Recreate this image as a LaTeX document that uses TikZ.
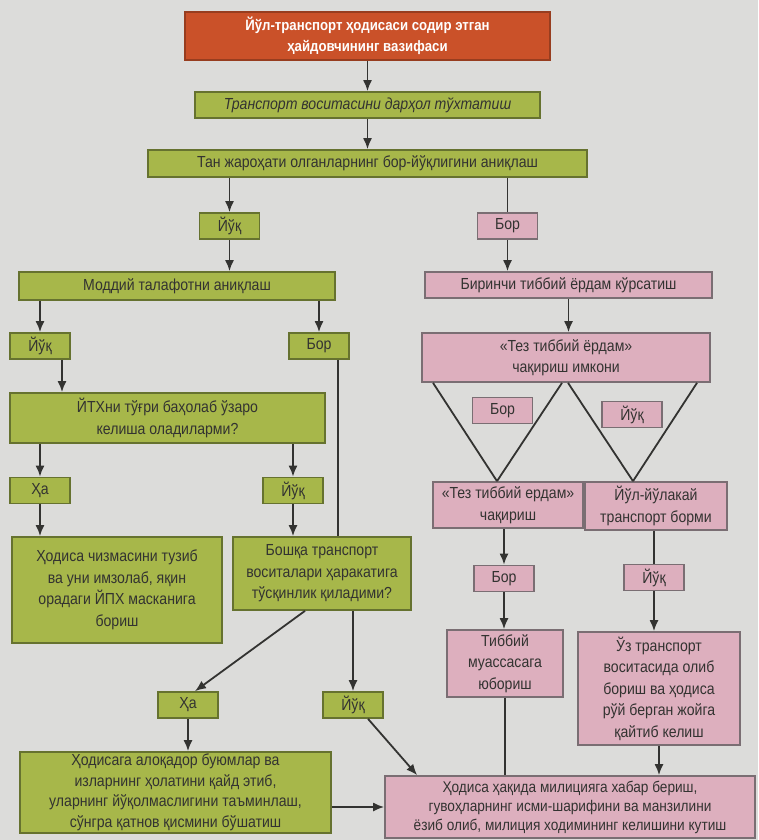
\documentclass[tikz,border=0pt]{standalone}
\usepackage{fontspec}
\setmainfont{Liberation Sans}[FakeStretch=0.88]
\usetikzlibrary{arrows.meta}
\definecolor{paper}{HTML}{DCDCDA}
\definecolor{olive}{HTML}{A7B74A}
\definecolor{oliveline}{HTML}{66722F}
\definecolor{rose}{HTML}{DDAFBE}
\definecolor{roseline}{HTML}{7A6E73}
\definecolor{brick}{HTML}{CA5129}
\definecolor{ink}{HTML}{333331}
\tikzset{
    box/.style={draw=oliveline, line width=1.7pt, fill=olive, text=ink, align=center, inner sep=1pt, font=\fontsize{16}{21.5}\selectfont},
    pbox/.style={box, draw=roseline, fill=rose},
    tag/.style={box, minimum width=60pt, minimum height=26pt},
    ptag/.style={tag, draw=roseline, fill=rose},
    arr/.style={-{Latex[length=11pt,width=9pt]}, line width=1.8pt, draw=ink},
    ln/.style={line width=1.8pt, draw=ink}
}
\begin{document}
\begin{tikzpicture}[x=1pt, y=-1pt]
        \useasboundingbox (0,0) rectangle (758,840);
        \fill [paper] (0,0) rectangle (758,840);
        \node [box, fill=brick, draw=brick!75!black, text=white, font=\bfseries\fontsize{15}{21}\selectfont, minimum width=365pt, minimum height=48pt] (task) at (367.5, 36) {Йўл-транспорт ҳодисаси содир этган\\ҳайдовчининг вазифаси};
        \node [box, font=\itshape\fontsize{16}{21.5}\selectfont, minimum width=345pt, minimum height=26pt] (stop) at (367.5, 105) {Транспорт воситасини дарҳол тўхтатиш};
        \node [box, minimum width=439pt, minimum height=27pt] (injury) at (367.5, 163.5) {Тан жароҳати олганларнинг бор-йўқлигини аниқлаш};
        \node [tag] (no1) at (229.5, 226) {Йўқ};
        \node [ptag] (yes1) at (507.5, 226) {Бор};
        \node [box, minimum width=316pt, minimum height=28pt] (damage) at (177, 286) {Моддий талафотни аниқлаш};
        \node [pbox, minimum width=287pt, minimum height=26pt] (aid) at (568.5, 285) {Биринчи тиббий ёрдам кўрсатиш};
        \node [tag] (no2) at (40, 346) {Йўқ};
        \node [tag] (yes2) at (319, 346) {Бор};
        \node [box, minimum width=315pt, minimum height=50pt] (agree) at (167.5, 418) {ЙТХни тўғри баҳолаб ўзаро\\келиша оладиларми?};
        \node [tag] (yes3) at (40, 490.5) {Ҳа};
        \node [tag] (no3) at (293, 490.5) {Йўқ};
        \node [box, minimum width=210pt, minimum height=106pt] (sketch) at (117, 590) {Ҳодиса чизмасини тузиб\\ва уни имзолаб, яқин\\орадаги ЙПХ масканига\\бориш};
        \node [box, minimum width=178pt, minimum height=73pt] (hinder) at (322, 573.5) {Бошқа транспорт\\воситалари ҳаракатига\\тўсқинлик қиладими?};
        \node [tag] (yes4) at (188, 705) {Ҳа};
        \node [tag] (no4) at (353, 705) {Йўқ};
        \node [box, font=\fontsize{16}{20.5}\selectfont, minimum width=311pt, minimum height=81pt] (clear) at (175.5, 792.5) {Ҳодисага алоқадор буюмлар ва\\изларнинг ҳолатини қайд этиб,\\уларнинг йўқолмаслигини таъминлаш,\\сўнгра қатнов қисмини бўшатиш};
        \node [pbox, font=\fontsize{15.5}{19}\selectfont, minimum width=370pt, minimum height=62pt] (police) at (570, 807) {Ҳодиса ҳақида милицияга хабар бериш,\\гувоҳларнинг исми-шарифини ва манзилини\\ёзиб олиб, милиция ходимининг келишини кутиш};
        \node [pbox, minimum width=288pt, minimum height=49pt] (callq) at (566, 357.5) {«Тез тиббий ёрдам»\\чақириш имкони};
        \node [ptag] (yes5) at (502.5, 410.5) {Бор};
        \node [ptag] (no5) at (632, 414.5) {Йўқ};
        \node [pbox, minimum width=150pt, minimum height=46pt] (call) at (508, 505) {«Тез тиббий ердам»\\чақириш};
        \node [pbox, minimum width=142pt, minimum height=48pt] (passing) at (656, 506) {Йўл-йўлакай\\транспорт борми};
        \node [ptag] (yes6) at (504, 578.5) {Бор};
        \node [ptag] (no6) at (654, 577.5) {Йўқ};
        \node [pbox, minimum width=116pt, minimum height=67pt] (clinic) at (505, 663.5) {Тиббий\\муассасага\\юбориш};
        \node [pbox, minimum width=162pt, minimum height=113pt] (owncar) at (659, 688.5) {Ўз транспорт\\воситасида олиб\\бориш ва ҳодиса\\рўй берган жойга\\қайтиб келиш};
        \draw [arr] (task) -- (stop);
        \draw [arr] (stop) -- (injury);
        \draw [arr] (injury.south -| no1) -- (no1);
        \draw [ln] (injury.south -| yes1) -- (yes1);
        \draw [arr] (no1) -- (no1 |- damage.north);
        \draw [arr] (yes1) -- (yes1 |- aid.north);
        \draw [arr] (damage.south -| no2) -- (no2);
        \draw [arr] (damage.south -| yes2) -- (yes2);
        \draw [arr] ([xshift=22pt]no2.south) -- ([xshift=22pt]no2.south |- agree.north);
        \draw [ln] ([xshift=19pt]yes2.south) -- ([xshift=19pt]yes2.south |- hinder.north);
        \draw [arr] (agree.south -| yes3) -- (yes3);
        \draw [arr] (agree.south -| no3) -- (no3);
        \draw [arr] (yes3) -- (yes3 |- sketch.north);
        \draw [arr] (no3) -- (no3 |- hinder.north);
        \draw [arr] ([xshift=-17pt]hinder.south) -- ([xshift=7pt]yes4.north);
        \draw [arr] (hinder.south -| no4) -- (no4);
        \draw [arr] (yes4) -- (yes4 |- clear.north);
        \draw [arr] ([xshift=15pt]no4.south) -- ([xshift=33pt]police.north west);
        \draw [arr] (clear.east |- police.west) -- (police.west);
        \draw [arr] (aid) -- (aid.south |- callq.north);
        \draw [ln] ([xshift=-133pt]callq.south) -- ([xshift=-11pt]call.north);
        \draw [ln] ([xshift=-4pt]callq.south) -- ([xshift=-11pt]call.north);
        \draw [ln] ([xshift=2pt]callq.south) -- ([xshift=-23pt]passing.north);
        \draw [ln] ([xshift=131pt]callq.south) -- ([xshift=-23pt]passing.north);
        \draw [arr] (call.south -| yes6) -- (yes6);
        \draw [arr] (yes6) -- (yes6 |- clinic.north);
        \draw [ln] (passing.south -| no6) -- (no6);
        \draw [arr] (no6) -- (no6 |- owncar.north);
        \draw [ln] (clinic) -- (clinic |- police.north);
        \draw [arr] (owncar) -- (owncar.south |- police.north);
    \end{tikzpicture}
\end{document}
